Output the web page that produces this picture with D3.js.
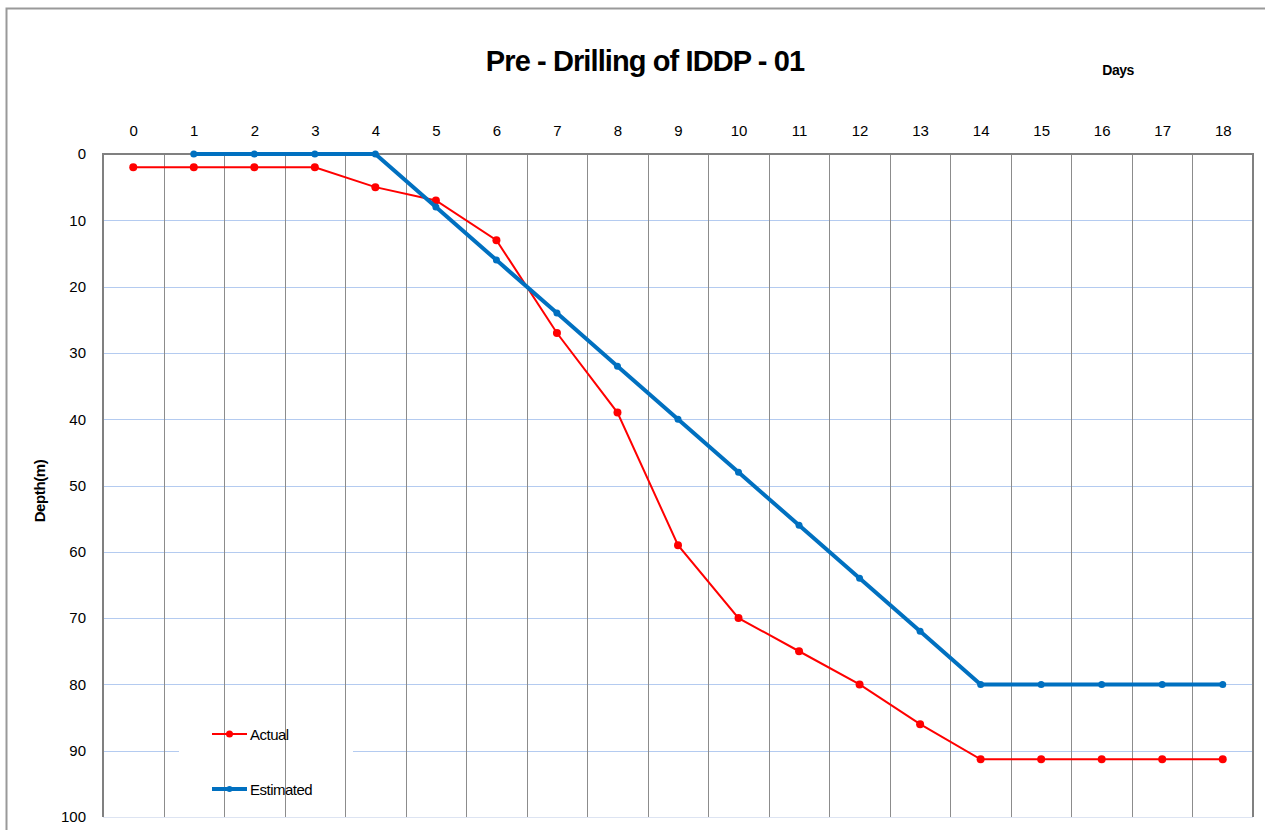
<!DOCTYPE html>
<meta charset="utf-8">
<style>
body { margin: 0; background: #fff; }
svg text { font-family: "Liberation Sans", Arial, sans-serif; fill: #000; }
.axis path { display: none; }
</style>
<body>
<script src="https://d3js.org/d3.v7.min.js"></script>
<script>
// data
var days = [0,1,2,3,4,5,6,7,8,9,10,11,12,13,14,15,16,17,18];
var actual = [2,2,2,2,5,7,13,27,39,59,70,75,80,86,91.3,91.3,91.3,91.3,91.3];
var estimatedDays = [1,2,3,4,5,6,7,8,9,10,11,12,13,14,15,16,17,18];
var estimated = [0,0,0,0,8,16,24,32,40,48,56,64,72,80,80,80,80,80];
var depthTicks = [0,10,20,30,40,50,60,70,80,90,100];

var W = 1265, H = 830;
var svg = d3.select("body").append("svg")
    .attr("width", W).attr("height", H);

// outer frame
svg.append("path")
    .attr("d", "M6.5,830 V8.5 H1265")
    .attr("fill", "none").attr("stroke", "#999").attr("stroke-width", 2);

var x = d3.scaleLinear().domain([-0.5, 18.5]).range([103, 1253]);
var y = d3.scaleLinear().domain([0, 100]).range([154, 817]);

// horizontal gridlines
svg.append("g").selectAll("line").data(depthTicks.slice(1))
  .enter().append("line")
    .attr("x1", x(-0.5)).attr("x2", x(18.5))
    .attr("y1", function(d) { return Math.round(y(d)) + 0.5; })
    .attr("y2", function(d) { return Math.round(y(d)) + 0.5; })
    .attr("stroke", function(d) { return d == 100 ? "#dde4f2" : "#b4cbf0"; })
    .attr("stroke-width", 1);

// legend background (covers horizontal grid)
svg.append("rect")
    .attr("x", 179).attr("y", 712).attr("width", 174).attr("height", 100)
    .attr("fill", "#fff");

// vertical gridlines between days
var bounds = d3.range(0.5, 18, 1);
svg.append("g").selectAll("line").data(bounds)
  .enter().append("line")
    .attr("x1", function(d) { return Math.round(x(d)) + 0.5; })
    .attr("x2", function(d) { return Math.round(x(d)) + 0.5; })
    .attr("y1", y(0)).attr("y2", y(100))
    .attr("stroke", "#8c8c8c").attr("stroke-width", 1);

// plot borders
svg.append("path")
    .attr("d", "M" + x(-0.5) + "," + y(100) + " V" + y(0) + " H" + x(18.5) + " V" + y(100))
    .attr("fill", "none").attr("stroke", "#808080").attr("stroke-width", 2);

// axes
var xAxis = svg.append("g").attr("class", "axis")
    .attr("transform", "translate(0," + (y(0) - 15) + ")")
    .call(d3.axisTop(x).tickValues(days).tickSize(0).tickFormat(d3.format("d")));
xAxis.selectAll("text").style("font-size", "15px");

var yAxis = svg.append("g").attr("class", "axis")
    .attr("transform", "translate(" + (x(-0.5) - 14) + ",0)")
    .call(d3.axisLeft(y).tickValues(depthTicks).tickSize(0));
yAxis.selectAll("text").style("font-size", "15px");

// lines
var line = d3.line()
    .x(function(d) { return x(d[0]); })
    .y(function(d) { return y(d[1]); });

var actPts = days.map(function(d, i) { return [d, actual[i]]; });
var estPts = estimatedDays.map(function(d, i) { return [d, estimated[i]]; });

svg.append("path").datum(actPts).attr("d", line)
    .attr("fill", "none").attr("stroke", "#ff0000").attr("stroke-width", 2);
svg.append("g").selectAll("circle").data(actPts).enter().append("circle")
    .attr("cx", function(d) { return x(d[0]); })
    .attr("cy", function(d) { return y(d[1]); })
    .attr("r", 4).attr("fill", "#ff0000");

svg.append("path").datum(estPts).attr("d", line)
    .attr("fill", "none").attr("stroke", "#0070c0").attr("stroke-width", 4);
svg.append("g").selectAll("circle").data(estPts).enter().append("circle")
    .attr("cx", function(d) { return x(d[0]); })
    .attr("cy", function(d) { return y(d[1]); })
    .attr("r", 3.5).attr("fill", "#0070c0");

// legend
var legend = [
  {name: "Actual", color: "#ff0000", w: 2, r: 3.5, y: 734},
  {name: "Estimated", color: "#0070c0", w: 4, r: 3, y: 789}
];
legend.forEach(function(l) {
  svg.append("line").attr("x1", 212).attr("x2", 247)
      .attr("y1", l.y).attr("y2", l.y)
      .attr("stroke", l.color).attr("stroke-width", l.w);
  svg.append("circle").attr("cx", 229.5).attr("cy", l.y).attr("r", l.r).attr("fill", l.color);
  svg.append("text").attr("x", 250).attr("y", l.y + 6)
      .style("font-size", "15px").style("letter-spacing", "-0.5px").text(l.name);
});

// titles
svg.append("text")
    .attr("x", 645).attr("y", 71)
    .attr("text-anchor", "middle")
    .style("font-size", "29px").style("font-weight", "bold").style("letter-spacing", "-0.9px")
    .text("Pre - Drilling of IDDP - 01");

svg.append("text")
    .attr("x", 1118).attr("y", 75)
    .attr("text-anchor", "middle")
    .style("font-size", "14px").style("font-weight", "bold").style("letter-spacing", "-0.5px")
    .text("Days");

svg.append("text")
    .attr("transform", "translate(45,491) rotate(-90)")
    .attr("text-anchor", "middle")
    .style("font-size", "15px").style("font-weight", "bold").style("letter-spacing", "-0.4px")
    .text("Depth(m)");
</script>
</body>
